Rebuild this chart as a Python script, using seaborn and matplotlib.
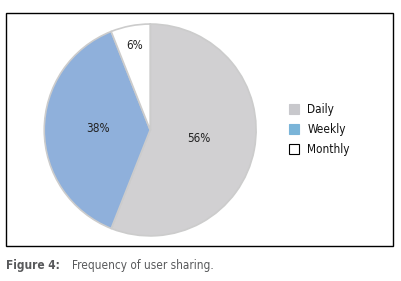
import matplotlib
matplotlib.use('Agg')
import matplotlib.pyplot as plt
from matplotlib.patches import Patch, Rectangle
import numpy as np
import seaborn as sns

categories = ['Daily', 'Weekly', 'Monthly']
shares = [56, 38, 6]
pie_colors = ['#d1d0d2', '#8fb0db', '#ffffff']
legend_colors = ['#c8c8cc', '#7ab4d8', '#ffffff']
label_dist = [0.47, 0.49, 0.80]

sns.set_theme(style='white')
plt.rcParams['font.family'] = ['DejaVu Sans']
plt.rcParams['font.stretch'] = 'condensed'

fig = plt.figure(figsize=(4.01, 2.81), dpi=100)
ax = fig.add_axes([0.105, 0.153, 0.539, 0.769])

wedges, texts, autotexts = ax.pie(
    shares, colors=pie_colors, startangle=90, counterclock=False,
    autopct='%d%%', pctdistance=0.5,
    wedgeprops=dict(edgecolor='#cccccc', linewidth=1.2),
    textprops=dict(fontsize=8.5, color='#222222'))

# move each percentage label to its own distance along the wedge middle
for w, t, d in zip(wedges, autotexts, label_dist):
    ang = np.deg2rad((w.theta1 + w.theta2) / 2)
    t.set_position((d * np.cos(ang), d * np.sin(ang) + 0.01))

ax.set_xlim(-1.02, 1.02)
ax.set_ylim(-1.02, 1.02)
ax.set_aspect('equal')
ax.axis('off')

handles = [Patch(facecolor=c, edgecolor='black' if c == '#ffffff' else c, linewidth=0.8)
           for c in legend_colors]
fig.legend(handles, categories, loc='upper left', bbox_to_anchor=(0.693, 0.672),
           frameon=False, fontsize=8.5, handlelength=0.9, handleheight=0.9,
           labelspacing=0.62, handletextpad=0.7, labelcolor='#111111')

# outer frame
fig.patches.append(Rectangle((6 / 401, 1 - 246 / 281), 387 / 401, 233 / 281,
                             transform=fig.transFigure, fill=False,
                             edgecolor='black', linewidth=1.0))

fig.text(6 / 401, 1 - 265 / 281, 'Figure 4:', fontsize=8.5, fontweight='bold',
         color='#58595b', va='center', ha='left')
fig.text(72 / 401, 1 - 265 / 281, 'Frequency of user sharing.', fontsize=8.5,
         color='#58595b', va='center', ha='left')

fig.savefig('out.png', dpi=100, facecolor='white')
